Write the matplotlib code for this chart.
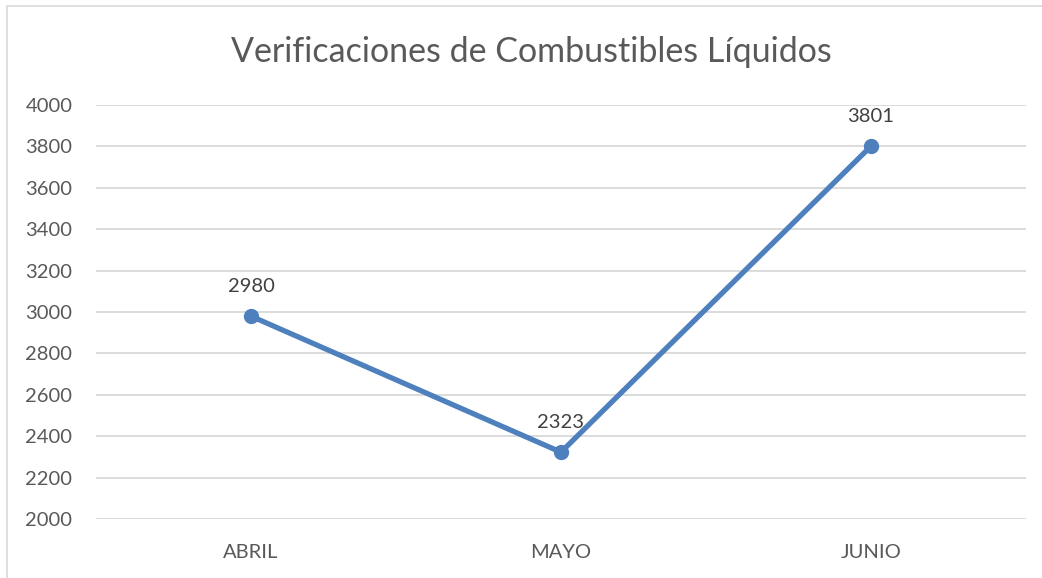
import matplotlib.pyplot as plt
from matplotlib.patches import Rectangle

months = ["ABRIL", "MAYO", "JUNIO"]
verificaciones = [2980, 2323, 3801]
y_ticks = [2000, 2200, 2400, 2600, 2800, 3000, 3200, 3400, 3600, 3800, 4000]

plt.rcParams["font.family"] = ["Lato", "DejaVu Sans"]
text_color = "#595959"
line_color = "#4E80BD"

fig = plt.figure(figsize=(10.42, 5.78), dpi=100)
ax = fig.add_axes([0.0921, 0.102, 0.8925, 0.7163])

x = list(range(len(months)))
ax.plot(x, verificaciones, color=line_color, lw=3.8, marker="o", ms=10,
        solid_capstyle="round", zorder=3)
for xi, v in zip(x, verificaciones):
    ax.annotate(str(v), (xi, v), xytext=(0, 15), textcoords="offset points",
                ha="center", va="bottom", fontsize=14.5, color="#404040")

ax.set_xlim(-0.5, len(months) - 0.5)
ax.set_ylim(2000, 4000)
ax.set_yticks(y_ticks)
ax.set_xticks(x)
ax.set_xticklabels(months)
ax.grid(axis="y", color="#d9d9d9", lw=1.3)
ax.set_axisbelow(True)
for s in ax.spines.values():
    s.set_visible(False)
ax.tick_params(axis="both", length=0, labelsize=14.5, colors=text_color)
ax.tick_params(axis="y", pad=17)
ax.tick_params(axis="x", pad=18)

fig.text(0.51, 0.91, "Verificaciones de Combustibles Líquidos", ha="center",
         va="center", fontsize=24.5, color=text_color)

fig.patches.append(Rectangle((7 / 1042, -0.1), 1.2, 1 - 6 / 578 + 0.1,
                             transform=fig.transFigure, fill=False,
                             edgecolor="#d9d9d9", lw=1.2))

fig.savefig("out.png", dpi=100)
